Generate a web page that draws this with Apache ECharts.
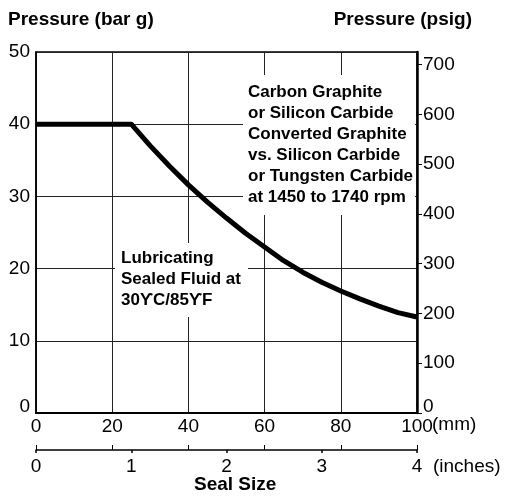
<!DOCTYPE html>
<html>
<head>
<meta charset="utf-8">
<script src="https://cdn.jsdelivr.net/npm/echarts@6/dist/echarts.min.js"></script>
<style>
  html, body { margin: 0; padding: 0; background: #fff; }
  #chart { width: 506px; height: 498px; }
</style>
</head>
<body>
<div id="chart"></div>
<script>
// seal size (mm) vs allowed pressure (bar g)
const sealMm = [0, 25, 30, 35, 40, 45, 50, 55, 60, 65, 70, 75, 80, 85, 90, 95, 100];
const pressureBar = [40, 40, 37.0, 34.2, 31.6, 29.2, 27.0, 24.9, 23.0, 21.1, 19.5, 18.1, 16.9, 15.8, 14.8, 13.9, 13.3];

const psiTicks = [0, 100, 200, 300, 400, 500, 600, 700];
const mmTicks = [0, 20, 40, 60, 80, 100];
const inchTicks = [0, 1, 2, 3, 4];

const BAR_TO_PSI = 14.5038;
const FONT = '"Liberation Sans", Arial, sans-serif';

const chart = echarts.init(document.getElementById('chart'));

const zeroUp = (v) => (v === 0 ? '{z|0}' : String(v));
const labelStyle = { color: '#000', fontFamily: FONT, fontSize: 19 };
const boldTitle = { fontFamily: FONT, fontSize: 19, fontWeight: 'bold', color: '#000' };

chart.setOption({
  animation: false,
  title: [
    { text: 'Pressure (bar g)', left: 8, top: 10, padding: 0, textStyle: boldTitle },
    { text: 'Pressure (psig)', right: 34, top: 10, padding: 0, textStyle: boldTitle },
    { text: 'Seal Size', left: 194, top: 475, padding: 0, textStyle: boldTitle },
    { text: '(mm)', left: 432, top: 415, padding: 0, textStyle: { ...labelStyle, fontWeight: 'normal' } },
    { text: '(inches)', left: 433, top: 457, padding: 0, textStyle: { ...labelStyle, fontWeight: 'normal' } }
  ],
  grid: {
    left: 36, right: 89, top: 52, bottom: 85,
    show: true, borderColor: '#000', borderWidth: 1.5
  },
  xAxis: [
    {
      type: 'value', min: 0, max: 100, interval: 20, position: 'bottom',
      axisLine: { show: true, onZero: false, lineStyle: { color: '#000', width: 2 } },
      axisTick: { show: false },
      axisLabel: { ...labelStyle, margin: 4 },
      splitLine: { show: true, lineStyle: { color: '#222', width: 1 } }
    },
    {
      // inch scale below
      type: 'value', min: 0, max: 4, interval: 1, position: 'bottom', offset: 37,
      axisLine: { show: true, onZero: false, lineStyle: { color: '#000', width: 1.5 } },
      axisTick: { show: true, length: 3, lineStyle: { color: '#000', width: 1.5 }, customValues: inchTicks },
      axisLabel: { ...labelStyle, margin: 7 },
      splitLine: { show: false }
    },
    {
      // mm marks on the inch line
      type: 'value', min: 0, max: 100, interval: 20, position: 'bottom', offset: 37,
      axisLine: { show: false, onZero: false },
      axisTick: { show: true, inside: true, length: 5, lineStyle: { color: '#000', width: 1 }, customValues: mmTicks },
      axisLabel: { show: false },
      splitLine: { show: false }
    }
  ],
  yAxis: [
    {
      type: 'value', min: 0, max: 50, interval: 10, position: 'left',
      axisLine: { show: true, onZero: false, lineStyle: { color: '#000', width: 1.5 } },
      axisTick: { show: false },
      axisLabel: { ...labelStyle, margin: 6, formatter: zeroUp,
        rich: { z: { ...labelStyle, padding: [0, 0, 13, 0] } } },
      splitLine: { show: true, lineStyle: { color: '#222', width: 1 } }
    },
    {
      type: 'value', min: 0, max: 50 * BAR_TO_PSI, position: 'right',
      axisLine: { show: true, onZero: false, lineStyle: { color: '#000', width: 2.5 } },
      axisTick: { show: true, length: 5, lineStyle: { color: '#000', width: 1 }, customValues: psiTicks },
      axisLabel: { ...labelStyle, margin: 6, customValues: psiTicks, formatter: zeroUp,
        rich: { z: { ...labelStyle, padding: [0, 0, 13, 0] } } },
      splitLine: { show: false }
    }
  ],
  graphic: [
    {
      type: 'text', x: 243, y: 75, z: 100,
      style: {
        text: 'Carbon Graphite\nor Silicon Carbide\nConverted Graphite\nvs. Silicon Carbide\nor Tungsten Carbide\nat 1450 to 1740 rpm',
        font: 'bold 17px "Liberation Sans", Arial, sans-serif',
        lineHeight: 21, fill: '#000', backgroundColor: '#fff', padding: [7, 2, 7, 5]
      }
    },
    {
      type: 'text', x: 115, y: 243, z: 100,
      style: {
        text: 'Lubricating\nSealed Fluid at\n30ϒC/85ϒF',
        font: 'bold 17px "Liberation Sans", "DejaVu Sans", Arial, sans-serif',
        lineHeight: 21, fill: '#000', backgroundColor: '#fff', padding: [5, 7, 6, 6]
      }
    }
  ],
  series: [
    {
      type: 'line', xAxisIndex: 0, yAxisIndex: 0,
      data: sealMm.map((m, i) => [m, pressureBar[i]]),
      showSymbol: false, smooth: false, z: 10,
      lineStyle: { color: '#000', width: 5, join: 'round', cap: 'butt' }
    }
  ]
});
</script>
</body>
</html>
